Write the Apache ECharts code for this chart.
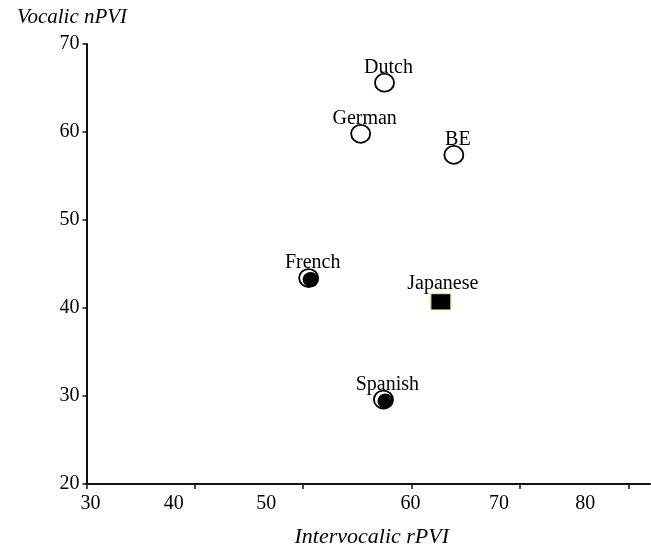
<!DOCTYPE html>
<html>
<head>
<meta charset="utf-8">
<script src="https://cdn.jsdelivr.net/npm/echarts@6/dist/echarts.min.js"></script>
<style>
html,body{margin:0;padding:0;background:#fff;}
#chart{width:651px;height:553px;}
</style>
</head>
<body>
<div id="chart"></div>
<script>
// ---- data ----
const languages = ['Dutch', 'German', 'BE', 'French', 'Japanese', 'Spanish'];
const rPVI = [57.5, 55.3, 63.9, 50.5, 62.7, 57.4];   // Intervocalic rPVI (x)
const nPVI = [65.6, 59.8, 57.4, 43.4, 40.7, 29.6];   // Vocalic nPVI (y)
const markerType = ['open', 'open', 'open', 'mixed', 'square', 'mixed'];
const xTicks = [30, 40, 50, 60, 70, 80];
const yTicks = [20, 30, 40, 50, 60, 70];
const xAxisTitle = 'Intervocalic rPVI';
const yAxisTitle = 'Vocalic nPVI';

// ---- style ----
const FONT = 'Liberation Serif';
const TXT = '#000';
const xLabelShift = [4, -21, -37, -1, -21, -43]; // label misalignment seen in reference

function pointsOf(type) {
  const out = [];
  languages.forEach((name, i) => {
    if (markerType[i] === type) out.push({ name: name, value: [rPVI[i], nPVI[i]] });
  });
  return out;
}

const rich = {};
xLabelShift.forEach((s, i) => {
  rich['s' + i] = {
    fontFamily: FONT, fontSize: 20, color: TXT,
    padding: s < 0 ? [0, -2 * s, 0, 0] : [0, 0, 0, 2 * s]
  };
});

const labelCfg = {
  show: true,
  position: 'top',
  distance: -5,
  offset: [4, 0],
  formatter: p => p.name,
  fontFamily: FONT,
  fontSize: 20,
  color: TXT
};

const chart = echarts.init(document.getElementById('chart'), null, { renderer: 'canvas' });
chart.setOption({
  backgroundColor: '#fff',
  animation: false,
  grid: { left: 86.5, right: 1, top: 44, bottom: 68, containLabel: false },
  xAxis: {
    type: 'value',
    min: 30, max: 82, interval: 10,
    name: xAxisTitle,
    nameLocation: 'middle',
    nameGap: 53,
    nameTextStyle: { fontFamily: FONT, fontStyle: 'italic', fontSize: 22, color: TXT, verticalAlign: 'middle', padding: [0, 0, 0, 7] },
    axisLine: { onZero: false, lineStyle: { color: '#111', width: 2 } },
    axisTick: { customValues: xTicks, length: 5, lineStyle: { color: '#111', width: 1.5 } },
    axisLabel: {
      customValues: xTicks,
      margin: 10,
      formatter: v => { const i = xTicks.indexOf(v); return i < 0 ? '' : '{s' + i + '|' + v + '}'; },
      rich: rich,
      fontFamily: FONT, fontSize: 20, color: TXT
    },
    splitLine: { show: false }
  },
  yAxis: {
    type: 'value',
    min: 20, max: 70, interval: 10,
    name: yAxisTitle,
    nameLocation: 'end',
    nameGap: 27,
    nameTextStyle: { fontFamily: FONT, fontStyle: 'italic', fontSize: 21, color: TXT, align: 'center', verticalAlign: 'middle', padding: [0, 29, 0, 0] },
    axisLine: { onZero: false, lineStyle: { color: '#111', width: 2 } },
    axisTick: { customValues: yTicks, length: 4, lineStyle: { color: '#111', width: 1.5 } },
    axisLabel: { customValues: yTicks, margin: 7, fontFamily: FONT, fontSize: 20, color: TXT },
    splitLine: { show: false }
  },
  series: [
    {
      type: 'scatter',
      data: pointsOf('open'),
      symbol: 'circle',
      symbolSize: [19, 18],
      itemStyle: { color: '#fff', borderColor: '#000', borderWidth: 1.8, opacity: 1 },
      label: labelCfg
    },
    {
      type: 'scatter',
      data: pointsOf('mixed'),
      symbol: 'circle',
      symbolSize: [19, 18],
      itemStyle: { color: '#fff', borderColor: '#000', borderWidth: 1.8, opacity: 1 },
      label: labelCfg
    },
    {
      type: 'scatter',
      data: pointsOf('mixed'),
      symbol: 'circle',
      symbolSize: [16, 15],
      symbolOffset: [2, 1.5],
      itemStyle: { color: '#000', opacity: 1 },
      label: { show: false },
      z: 3
    },
    {
      type: 'scatter',
      data: pointsOf('square'),
      symbol: 'rect',
      symbolSize: [20, 16],
      itemStyle: { color: '#000', borderColor: '#e6dc8c', borderWidth: 1, opacity: 1 },
      label: Object.assign({}, labelCfg, { distance: 0, offset: [2, 0] })
    }
  ]
});
</script>
</body>
</html>
